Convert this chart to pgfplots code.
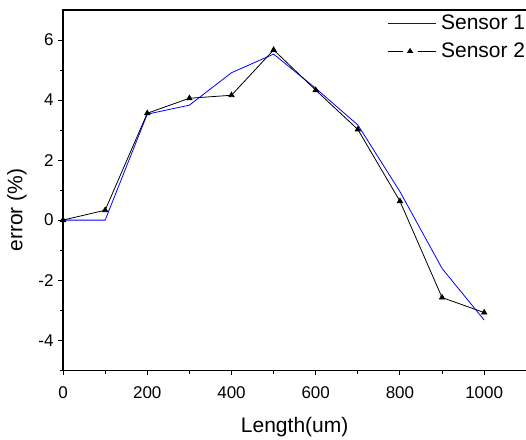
\documentclass[border=0pt]{standalone}
\usepackage{pgfplots}
\pgfplotsset{compat=1.18}
\usepackage{fontspec}
\setmainfont{Liberation Sans}
\definecolor{sone}{RGB}{0,0,255}
\pgfplotsset{
  sonelegend/.style={legend image code/.code={\color{sone}\draw[##1, draw=sone, color=sone, line width=0.9pt] (0pt,0pt) -- (48pt,0pt);}},
  stwolegend/.style={legend image code/.code={\draw[black, line width=0.8pt] (0pt,0pt) -- (15pt,0pt); \draw[black, line width=0.8pt] (30pt,0pt) -- (48pt,0pt); \fill[black] (22.5pt,2.6pt) -- (20pt,-1.3pt) -- (25pt,-1.3pt) -- cycle;}},
}
\begin{document}
\begin{tikzpicture}
\begin{axis}[
  scale only axis,
  width=463pt, height=360pt,
  xmin=0, xmax=1100, ymin=-5, ymax=7,
  xtick={0,200,...,1000}, minor xtick={100,300,...,900},
  ytick={-4,-2,...,6}, minor ytick={-5,-3,...,5},
  tick align=outside,
  xtick pos=bottom, ytick pos=left,
  major tick length=5pt, minor tick length=3.5pt,
  every tick/.style={black, line width=1pt},
  axis line style={line width=1.1pt},
  /pgf/number format/assume math mode=true,
  /pgf/number format/1000 sep={},
  ticklabel style={font=\fontsize{17}{19}\selectfont},
  xticklabel style={yshift=-8pt},
  yticklabel style={xshift=-1pt},
  xlabel={Length(um)}, ylabel={error (\%)},
  label style={font=\fontsize{21}{23}\selectfont},
  xlabel style={at={(axis description cs:0.5,0)}, anchor=center, yshift=-57pt},
  ylabel style={at={(axis description cs:0,0.5)}, anchor=center, yshift=46pt, xshift=-20pt},
  legend style={draw=none, fill=none, at={(rel axis cs:0.697,0.995)}, anchor=north west,
    font=\fontsize{21}{23}\selectfont, row sep=8pt, column sep=3pt, inner sep=1pt,
    nodes={inner sep=2pt}},
  legend cell align=left,
]
\addplot[color=sone, line width=0.8pt, mark=none, sonelegend]
  coordinates {(0,0) (100,0) (200,3.53) (300,3.83) (400,4.91) (500,5.53) (600,4.39) (700,3.17) (800,0.95) (900,-1.61) (1000,-3.33)};
\addlegendentry{Sensor 1}
\addplot[black, line width=0.8pt, mark=triangle*, mark size=3pt, stwolegend]
  coordinates {(0,0) (100,0.33) (200,3.56) (300,4.06) (400,4.16) (500,5.67) (600,4.33) (700,3.02) (800,0.63) (900,-2.58) (1000,-3.08)};
\addlegendentry{Sensor 2}
\end{axis}
\pgfresetboundingbox
\path[use as bounding box] ([xshift=-63pt,yshift=-69pt]current axis.south west) rectangle ([xshift=-0.3pt,yshift=10pt]current axis.north east);
\end{tikzpicture}
\end{document}
